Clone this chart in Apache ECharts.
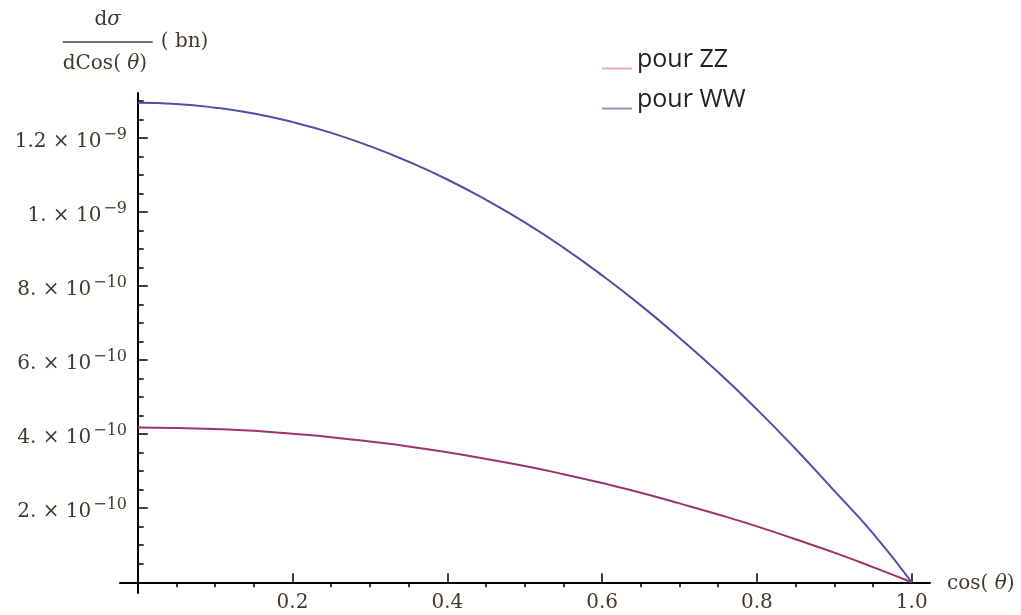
<!DOCTYPE html>
<html>
<head>
<meta charset="utf-8">
<script src="https://cdn.jsdelivr.net/npm/echarts@6/dist/echarts.min.js"></script>
<style>html,body{margin:0;padding:0;background:#fff}#c{width:1021px;height:615px}</style>
</head>
<body>
<div id="c"></div>
<script>
// ---- data ----
const cosTheta = [0, 0.05, 0.1, 0.15, 0.2, 0.25, 0.3, 0.35, 0.4, 0.45, 0.5, 0.55, 0.6, 0.65, 0.7, 0.75, 0.8, 0.85, 0.9, 0.95, 1.0];
const sigmaWW = [1.295e-9, 1.292e-9, 1.282e-9, 1.266e-9, 1.243e-9, 1.214e-9, 1.178e-9, 1.136e-9, 1.088e-9, 1.033e-9, 0.972e-9, 0.904e-9, 0.829e-9, 0.748e-9, 0.660e-9, 0.567e-9, 0.467e-9, 0.360e-9, 0.247e-9, 0.132e-9, 0];
const sigmaZZ = [0.418e-9, 0.417e-9, 0.414e-9, 0.409e-9, 0.401e-9, 0.392e-9, 0.380e-9, 0.367e-9, 0.351e-9, 0.333e-9, 0.314e-9, 0.292e-9, 0.268e-9, 0.242e-9, 0.213e-9, 0.183e-9, 0.151e-9, 0.116e-9, 0.080e-9, 0.041e-9, 0];
const seriesNames = ['pour ZZ', 'pour WW'];

const xTickValues = [0.2, 0.4, 0.6, 0.8, 1.0];
const xTickLabels = ['0.2', '0.4', '0.6', '0.8', '1.0'];
const xMinorTickValues = [0.05, 0.1, 0.15, 0.25, 0.3, 0.35, 0.45, 0.5, 0.55, 0.65, 0.7, 0.75, 0.85, 0.9, 0.95];

const yTickValues = [2e-10, 4e-10, 6e-10, 8e-10, 1e-9, 1.2e-9];
const yTickMantissas = ['2.', '4.', '6.', '8.', '1.', '1.2'];
const yTickExponents = ['\u221210', '\u221210', '\u221210', '\u221210', '\u22129', '\u22129'];
const yMinorTickValues = [0.5e-10, 1e-10, 1.5e-10, 2.5e-10, 3e-10, 3.5e-10, 4.5e-10, 5e-10, 5.5e-10, 6.5e-10, 7e-10, 7.5e-10, 8.5e-10, 9e-10, 9.5e-10, 1.05e-9, 1.1e-9, 1.15e-9, 1.25e-9, 1.3e-9];

// ---- chart ----
const SERIF = 'DejaVu Serif';
const TXT = '#45392f';
const chart = echarts.init(document.getElementById('c'), null, {renderer: 'canvas'});

const xRange = {min: -0.0229, max: 1.0236};
const yRange = {min: -0.029e-9, max: 1.3216e-9};

function pairs(ys) { return cosTheta.map((x, i) => [x, ys[i]]); }

function yLabel(v) {
  for (let i = 0; i < yTickValues.length; i++) {
    if (Math.abs(yTickValues[i] - v) < 1e-14) {
      return '{m|' + yTickMantissas[i] + ' \u00d7 10}{e|' + yTickExponents[i] + '}';
    }
  }
  return '';
}
function xLabel(v) {
  for (let i = 0; i < xTickValues.length; i++) {
    if (Math.abs(xTickValues[i] - v) < 1e-9) return xTickLabels[i];
  }
  return '';
}

const option = {
  animation: false,
  backgroundColor: '#ffffff',
  grid: {left: 120, right: 91, top: 93, bottom: 22, containLabel: false, outerBoundsMode: 'none'},
  legend: {
    orient: 'vertical',
    left: 597,
    top: 42,
    itemWidth: 30,
    itemHeight: 20,
    itemGap: 15,
    icon: 'path://M0,0 L0.1,0 L0.1,0.1 Z M0,18 L30,18 L30,20 L0,20 Z',
    textStyle: {fontFamily: 'Open Sans', fontSize: 25, color: '#222', lineHeight: 20},
    data: [
      {name: seriesNames[0], itemStyle: {color: '#f2a6c2'}},
      {name: seriesNames[1], itemStyle: {color: '#8898cc'}}
    ]
  },
  xAxis: [
    {
      type: 'value', min: xRange.min, max: xRange.max,
      axisLine: {show: true, onZero: true, onZeroAxisIndex: 0, lineStyle: {color: '#000', width: 2}},
      axisTick: {show: true, inside: true, length: 9, lineStyle: {color: '#000', width: 1.5}, customValues: xTickValues},
      axisLabel: {show: true, margin: 0, customValues: xTickValues, formatter: xLabel,
                  fontFamily: SERIF, fontSize: 20, lineHeight: 20, color: TXT},
      splitLine: {show: false},
      name: '{a|cos( }{b|\u03b8}{a|)}',
      nameLocation: 'end',
      nameGap: 17,
      nameTextStyle: {align: 'left', verticalAlign: 'middle', padding: [4, 0, 0, 0],
        rich: {
          a: {fontFamily: SERIF, fontSize: 20, color: TXT},
          b: {fontFamily: SERIF, fontSize: 20, fontStyle: 'italic', color: TXT}
        }}
    },
    {
      type: 'value', min: xRange.min, max: xRange.max,
      axisLine: {show: false, onZero: true, onZeroAxisIndex: 0},
      axisTick: {show: true, inside: true, length: 5, lineStyle: {color: '#000', width: 1.5}, customValues: xMinorTickValues},
      axisLabel: {show: false},
      splitLine: {show: false}
    }
  ],
  yAxis: [
    {
      type: 'value', min: yRange.min, max: yRange.max,
      axisLine: {show: true, onZero: true, onZeroAxisIndex: 0, lineStyle: {color: '#000', width: 2}},
      axisTick: {show: true, inside: true, length: 10, lineStyle: {color: '#000', width: 1.5}, customValues: yTickValues},
      axisLabel: {show: true, margin: -7, customValues: yTickValues, formatter: yLabel, padding: [7, 0, 0, 0],
        rich: {
          m: {fontFamily: SERIF, fontSize: 20, lineHeight: 20, color: TXT, verticalAlign: 'bottom'},
          e: {fontFamily: SERIF, fontSize: 16, lineHeight: 16, color: TXT, verticalAlign: 'bottom', padding: [0, 0, 9, 2]}
        }},
      splitLine: {show: false},
      name: '{n1|d}{n2|\u03c3}{fill| }\n{bar| }{bn|( bn)}\n{d1|dCos( }{d2|\u03b8}{d1|)}{fill| }',
      nameLocation: 'end',
      nameGap: 18,
      nameTextStyle: {align: 'center', verticalAlign: 'bottom',
        rich: {
          n1: {fontFamily: SERIF, fontSize: 20, lineHeight: 22, color: TXT, align: 'center'},
          n2: {fontFamily: SERIF, fontSize: 20, lineHeight: 22, color: TXT, align: 'center', fontStyle: 'italic'},
          fill: {fontSize: 20, lineHeight: 22, width: 60, align: 'right'},
          bar: {width: 90, height: 1.5, lineHeight: 22, backgroundColor: '#444', align: 'left'},
          bn: {fontFamily: SERIF, fontSize: 20, lineHeight: 22, color: TXT, align: 'left', width: 52, padding: [0, 0, 0, 8]},
          d1: {fontFamily: SERIF, fontSize: 20, lineHeight: 22, color: TXT, align: 'left'},
          d2: {fontFamily: SERIF, fontSize: 20, lineHeight: 22, color: TXT, align: 'left', fontStyle: 'italic'}
        }}
    },
    {
      type: 'value', min: yRange.min, max: yRange.max, position: 'left',
      axisLine: {show: false, onZero: true, onZeroAxisIndex: 0},
      axisTick: {show: true, inside: true, length: 6, lineStyle: {color: '#000', width: 1.5}, customValues: yMinorTickValues},
      axisLabel: {show: false},
      splitLine: {show: false}
    }
  ],
  series: [
    {
      name: seriesNames[0], type: 'line', xAxisIndex: 0, yAxisIndex: 0,
      data: pairs(sigmaZZ), showSymbol: false, smooth: true,
      lineStyle: {color: '#9c3468', width: 2}, itemStyle: {color: '#9c3468'}
    },
    {
      name: seriesNames[1], type: 'line', xAxisIndex: 0, yAxisIndex: 0,
      data: pairs(sigmaWW), showSymbol: false, smooth: true,
      lineStyle: {color: '#4f4fa6', width: 2}, itemStyle: {color: '#4f4fa6'}
    }
  ]
};
chart.setOption(option);
</script>
</body>
</html>
